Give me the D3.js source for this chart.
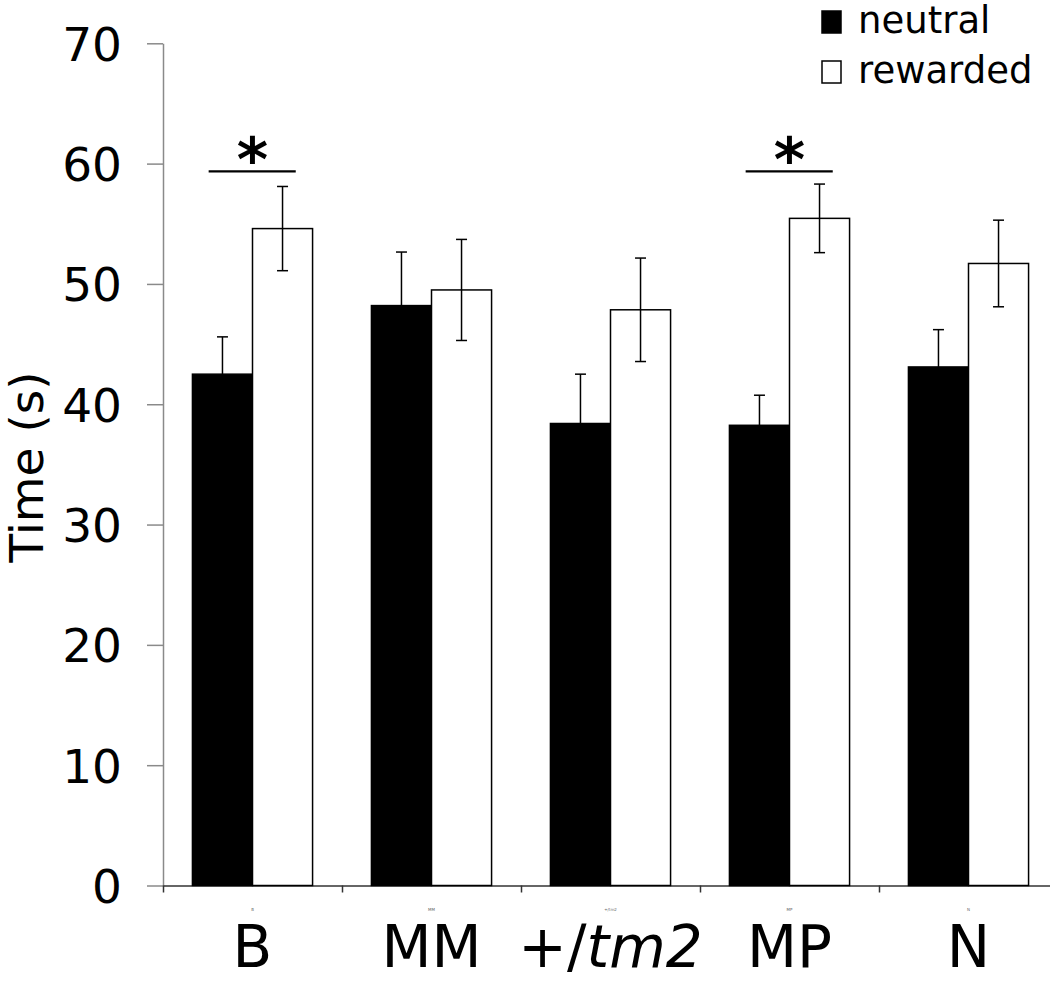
<!DOCTYPE html>
<html>
<head>
<meta charset="utf-8">
<script src="https://cdn.jsdelivr.net/npm/d3@7"></script>
<style>
  html, body { margin: 0; padding: 0; background: #fff; }
  text { font-family: "DejaVu Sans", Verdana, sans-serif; }
</style>
</head>
<body>
<svg id="chart" width="1050" height="985"></svg>
<script>
const categories = ["B", "MM", "+/tm2", "MP", "N"];
const seriesNames = ["neutral", "rewarded"];
const neutralValues = [42.5, 48.2, 38.4, 38.25, 43.1];
const neutralErrors = [3.1, 4.45, 4.1, 2.5, 3.1];
const rewardedValues = [54.6, 49.5, 47.85, 55.45, 51.7];
const rewardedErrors = [3.5, 4.2, 4.3, 2.85, 3.6];
const yTicks = [0, 10, 20, 30, 40, 50, 60, 70];
const significance = [{cat: "B", value: 59.35, label: "*"}, {cat: "MP", value: 59.35, label: "*"}];

const svg = d3.select("#chart");
const x0 = 163, x1 = 1058, yBottom = 885.5, yTop = 43.3;

const y = d3.scaleLinear().domain([0, 70]).range([yBottom, yTop]);
const x = d3.scaleBand().domain(categories).range([x0, x1]).paddingInner(0).paddingOuter(0);
const xs = d3.scaleBand().domain(seriesNames).range([0, x.bandwidth()]).paddingInner(0).paddingOuter(0.49);
const xEdge = d3.scaleLinear().domain([0, categories.length]).range([x0, x1]);

// Y axis
const yAxis = svg.append("g").attr("transform", `translate(${x0},0)`)
  .call(d3.axisLeft(y).tickValues(yTicks).tickSize(16).tickPadding(25).tickSizeOuter(0));
yAxis.select(".domain").attr("stroke", "#8a8a8a").attr("stroke-width", 1.5);
yAxis.selectAll(".tick line").attr("stroke", "#8a8a8a").attr("stroke-width", 1.5);
yAxis.selectAll(".tick text").attr("font-size", 47).attr("fill", "#000")
  .style("font-family", "'DejaVu Sans', sans-serif").attr("dy", "0.36em");

// X axis (ticks at band boundaries)
const xAxis = svg.append("g").attr("transform", `translate(0,${yBottom})`)
  .call(d3.axisBottom(xEdge).tickValues(d3.range(categories.length + 1)).tickFormat("").tickSize(7).tickSizeOuter(0));
xAxis.select(".domain").attr("stroke", "#333").attr("stroke-width", 1.5);
xAxis.selectAll(".tick line").attr("stroke", "#333").attr("stroke-width", 1.5);

// Bars
const data = categories.map((c, i) => ({
  cat: c,
  items: [
    {s: "neutral", v: neutralValues[i], e: neutralErrors[i]},
    {s: "rewarded", v: rewardedValues[i], e: rewardedErrors[i]}
  ]
}));

const groups = svg.append("g").selectAll("g").data(data).join("g")
  .attr("transform", d => `translate(${x(d.cat)},0)`);

groups.selectAll("rect").data(d => d.items).join("rect")
  .attr("x", d => xs(d.s))
  .attr("y", d => y(d.v))
  .attr("width", xs.bandwidth())
  .attr("height", d => y(0) - y(d.v))
  .attr("fill", d => d.s === "neutral" ? "#000" : "#fff")
  .attr("stroke", "#000")
  .attr("stroke-width", 1.5);

// Error bars
const capW = 11;
const eb = groups.selectAll("g.err").data(d => d.items).join("g").attr("class", "err");
eb.append("line")
  .attr("x1", d => xs(d.s) + xs.bandwidth() / 2).attr("x2", d => xs(d.s) + xs.bandwidth() / 2)
  .attr("y1", d => y(d.v + d.e)).attr("y2", d => y(d.v - d.e))
  .attr("stroke", "#000").attr("stroke-width", 1.5);
eb.append("line")
  .attr("x1", d => xs(d.s) + xs.bandwidth() / 2 - capW / 2).attr("x2", d => xs(d.s) + xs.bandwidth() / 2 + capW / 2)
  .attr("y1", d => y(d.v + d.e)).attr("y2", d => y(d.v + d.e))
  .attr("stroke", "#000").attr("stroke-width", 1.5);
eb.append("line")
  .attr("x1", d => xs(d.s) + xs.bandwidth() / 2 - capW / 2).attr("x2", d => xs(d.s) + xs.bandwidth() / 2 + capW / 2)
  .attr("y1", d => y(d.v - d.e)).attr("y2", d => y(d.v - d.e))
  .attr("stroke", "#000").attr("stroke-width", 1.5);

// Significance markers
const sig = svg.append("g").selectAll("g").data(significance).join("g");
sig.append("line")
  .attr("x1", d => x(d.cat) + xs("neutral") + xs.bandwidth() * 0.27)
  .attr("x2", d => x(d.cat) + xs("rewarded") + xs.bandwidth() * 0.72)
  .attr("y1", d => y(d.value)).attr("y2", d => y(d.value))
  .attr("stroke", "#000").attr("stroke-width", 2.2);
sig.append("text")
  .attr("x", d => x(d.cat) + x.bandwidth() / 2)
  .attr("y", d => y(d.value) + 10)
  .attr("text-anchor", "middle")
  .attr("font-size", 60)
  .attr("font-weight", "bold")
  .text(d => d.label);

// Tiny repeated category labels under ticks
svg.append("g").selectAll("text").data(categories).join("text")
  .attr("x", d => x(d) + x.bandwidth() / 2)
  .attr("y", 911)
  .attr("text-anchor", "middle")
  .attr("font-size", 4)
  .attr("fill", "#666")
  .text(d => d);

// Big category labels
const labels = svg.append("g").selectAll("text").data(categories).join("text")
  .attr("x", d => x(d) + x.bandwidth() / 2)
  .attr("y", 967)
  .attr("text-anchor", "middle")
  .attr("font-size", 58)
  .attr("fill", "#000");
labels.each(function(d) {
  const t = d3.select(this);
  if (d === "+/tm2") {
    t.append("tspan").text("+/");
    t.append("tspan").attr("font-style", "italic").text("tm2");
  } else {
    t.text(d);
  }
});

// Y axis title
svg.append("text")
  .attr("transform", "translate(43,467) rotate(-90)")
  .attr("text-anchor", "middle")
  .attr("font-size", 47)
  .text("Time (s)");

// Legend
const legend = svg.append("g").selectAll("g").data(seriesNames).join("g")
  .attr("transform", (d, i) => `translate(822,${11 + i * 50})`);
legend.append("rect")
  .attr("x", 0).attr("y", 0).attr("width", 19).attr("height", 22)
  .attr("fill", d => d === "neutral" ? "#000" : "#fff")
  .attr("stroke", "#000").attr("stroke-width", 1.5);
legend.append("text")
  .attr("x", 36).attr("y", 22)
  .attr("font-size", 37)
  .text(d => d);
</script>
</body>
</html>
